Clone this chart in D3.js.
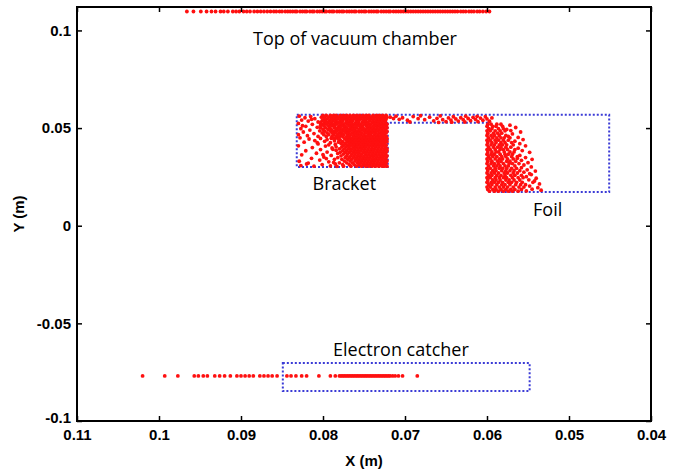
<!DOCTYPE html>
<html>
<head>
<meta charset="utf-8">
<script src="https://cdn.jsdelivr.net/npm/d3@7"></script>
<style>
	body { margin: 0; background: #fff; }
	svg { display: block; }
	.tick text { font-family: "Liberation Sans", Arial, sans-serif; font-weight: bold; font-size: 15px; fill: #000; }
	.note { font-family: "Open Sans", "Noto Sans", sans-serif; font-size: 18px; font-weight: 500; fill: #000; }
	.axis-title { font-family: "Liberation Sans", Arial, sans-serif; font-weight: bold; font-size: 15px; fill: #000; }
</style>
</head>
<body>
<svg id="chart" width="681" height="473"></svg>
<script>
// axis ticks
var xTicks = [0.11, 0.1, 0.09, 0.08, 0.07, 0.06, 0.05, 0.04];
var xTickLabels = ["0.11", "0.1", "0.09", "0.08", "0.07", "0.06", "0.05", "0.04"];
var yTicks = [-0.1, -0.05, 0, 0.05, 0.1];
var yTickLabels = ["-0.1", "-0.05", "0", "0.05", "0.1"];

// dotted outlines (m)
var targetOutline = [[0.0832, 0.0568], [0.0451, 0.0568], [0.0451, 0.0173], [0.0599, 0.0173],
	[0.0599, 0.0527], [0.0721, 0.0527], [0.0721, 0.0301], [0.0832, 0.0301]];
var catcherOutline = [[0.0849, -0.0703], [0.0548, -0.0703], [0.0548, -0.0846], [0.0849, -0.0846]];

// hits on top of the chamber, y = 0.1097
var topY = 0.1097;
var topX = [0.0966, 0.0958, 0.0949, 0.0942, 0.0936, 0.0931, 0.0925, 0.0921, 0.0916, 0.0910, 0.0906, 0.0902,
	0.0897, 0.0893, 0.0889, 0.0884, 0.0880, 0.0876, 0.0872, 0.0868, 0.0864, 0.0860, 0.0857, 0.0853, 0.0850,
	0.0846, 0.0843, 0.0840, 0.0837, 0.0834, 0.0832, 0.0828, 0.0825, 0.0822, 0.0820, 0.0816, 0.0813, 0.0811,
	0.0807, 0.0804, 0.0801, 0.0798, 0.0796, 0.0792, 0.0789, 0.0787, 0.0783, 0.0780, 0.0777, 0.0775, 0.0771,
	0.0768, 0.0765, 0.0762, 0.0760, 0.0756, 0.0753, 0.0750, 0.0748, 0.0744, 0.0741, 0.0738, 0.0735, 0.0733,
	0.0729, 0.0726, 0.0723, 0.0720, 0.0718, 0.0714, 0.0711, 0.0708, 0.0705, 0.0702, 0.0699, 0.0696, 0.0693,
	0.0690, 0.0687, 0.0684, 0.0681, 0.0678, 0.0675, 0.0672, 0.0669, 0.0666, 0.0663, 0.0660, 0.0657, 0.0654,
	0.0651, 0.0648, 0.0645, 0.0642, 0.0639, 0.0636, 0.0632, 0.0629, 0.0626, 0.0622, 0.0619, 0.0616, 0.0612,
	0.0609, 0.0605, 0.0601, 0.0597];

// bracket core, rows of [y, [x...]]
var bracketRows = [
	[0.0565, [0.0800, 0.0796, 0.0791, 0.0787, 0.0784, 0.0779, 0.0775, 0.0771, 0.0767, 0.0763, 0.0759, 0.0755, 0.0751, 0.0747, 0.0744, 0.0739, 0.0735, 0.0731, 0.0727, 0.0723]],
	[0.0556, [0.0802, 0.0798, 0.0793, 0.0789, 0.0785, 0.0781, 0.0777, 0.0773, 0.0769, 0.0765, 0.0761, 0.0757, 0.0753, 0.0749, 0.0745, 0.0741, 0.0737, 0.0733, 0.0729, 0.0725, 0.0722]],
	[0.0547, [0.0799, 0.0795, 0.0790, 0.0786, 0.0782, 0.0778, 0.0774, 0.0770, 0.0766, 0.0762, 0.0758, 0.0754, 0.0750, 0.0746, 0.0742, 0.0738, 0.0734, 0.0730, 0.0726, 0.0723]],
	[0.0538, [0.0801, 0.0797, 0.0792, 0.0788, 0.0784, 0.0779, 0.0776, 0.0771, 0.0767, 0.0764, 0.0759, 0.0756, 0.0751, 0.0748, 0.0743, 0.0739, 0.0735, 0.0731, 0.0727, 0.0724]],
	[0.0529, [0.0803, 0.0798, 0.0794, 0.0790, 0.0785, 0.0781, 0.0777, 0.0772, 0.0769, 0.0765, 0.0760, 0.0757, 0.0752, 0.0748, 0.0745, 0.0740, 0.0736, 0.0732, 0.0728, 0.0724]],
	[0.0520, [0.0800, 0.0796, 0.0791, 0.0787, 0.0783, 0.0778, 0.0775, 0.0770, 0.0766, 0.0762, 0.0758, 0.0754, 0.0749, 0.0746, 0.0742, 0.0737, 0.0733, 0.0729, 0.0725, 0.0722]],
	[0.0511, [0.0799, 0.0793, 0.0789, 0.0786, 0.0780, 0.0776, 0.0773, 0.0768, 0.0764, 0.0760, 0.0756, 0.0752, 0.0747, 0.0743, 0.0739, 0.0735, 0.0731, 0.0727, 0.0723]],
	[0.0502, [0.0803, 0.0797, 0.0792, 0.0786, 0.0782, 0.0779, 0.0774, 0.0771, 0.0766, 0.0763, 0.0759, 0.0754, 0.0751, 0.0746, 0.0742, 0.0738, 0.0734, 0.0730, 0.0726, 0.0722]],
	[0.0493, [0.0800, 0.0794, 0.0790, 0.0784, 0.0780, 0.0776, 0.0772, 0.0768, 0.0764, 0.0761, 0.0756, 0.0752, 0.0748, 0.0744, 0.0740, 0.0736, 0.0732, 0.0728, 0.0724]],
	[0.0484, [0.0798, 0.0791, 0.0787, 0.0783, 0.0778, 0.0774, 0.0770, 0.0767, 0.0762, 0.0758, 0.0755, 0.0750, 0.0746, 0.0742, 0.0738, 0.0734, 0.0729, 0.0725, 0.0722]],
	[0.0475, [0.0801, 0.0795, 0.0789, 0.0785, 0.0780, 0.0777, 0.0772, 0.0769, 0.0764, 0.0760, 0.0757, 0.0753, 0.0748, 0.0744, 0.0740, 0.0736, 0.0731, 0.0727, 0.0723]],
	[0.0466, [0.0799, 0.0793, 0.0787, 0.0782, 0.0778, 0.0775, 0.0770, 0.0766, 0.0762, 0.0758, 0.0754, 0.0750, 0.0745, 0.0742, 0.0737, 0.0733, 0.0729, 0.0725]],
	[0.0457, [0.0796, 0.0789, 0.0784, 0.0780, 0.0776, 0.0771, 0.0768, 0.0763, 0.0759, 0.0755, 0.0751, 0.0747, 0.0743, 0.0739, 0.0735, 0.0731, 0.0727, 0.0723]],
	[0.0448, [0.0790, 0.0785, 0.0781, 0.0774, 0.0770, 0.0766, 0.0762, 0.0758, 0.0754, 0.0750, 0.0746, 0.0742, 0.0738, 0.0734, 0.0730, 0.0726, 0.0722]],
	[0.0439, [0.0779, 0.0772, 0.0768, 0.0764, 0.0760, 0.0756, 0.0752, 0.0748, 0.0744, 0.0740, 0.0736, 0.0732, 0.0728, 0.0724]],
	[0.0430, [0.0776, 0.0770, 0.0766, 0.0762, 0.0758, 0.0754, 0.0750, 0.0746, 0.0742, 0.0738, 0.0734, 0.0730, 0.0726, 0.0722]],
	[0.0421, [0.0778, 0.0773, 0.0768, 0.0764, 0.0760, 0.0756, 0.0752, 0.0748, 0.0745, 0.0741, 0.0737, 0.0733, 0.0729, 0.0725]],
	[0.0412, [0.0775, 0.0770, 0.0766, 0.0762, 0.0758, 0.0754, 0.0750, 0.0747, 0.0743, 0.0739, 0.0735, 0.0731, 0.0727, 0.0723]],
	[0.0403, [0.0777, 0.0772, 0.0768, 0.0763, 0.0759, 0.0755, 0.0752, 0.0748, 0.0744, 0.0740, 0.0736, 0.0732, 0.0728, 0.0724]],
	[0.0394, [0.0780, 0.0774, 0.0769, 0.0765, 0.0761, 0.0757, 0.0753, 0.0749, 0.0745, 0.0741, 0.0737, 0.0733, 0.0729, 0.0725, 0.0722]],
	[0.0385, [0.0776, 0.0771, 0.0766, 0.0762, 0.0758, 0.0754, 0.0750, 0.0746, 0.0742, 0.0738, 0.0734, 0.0730, 0.0726, 0.0722]],
	[0.0376, [0.0779, 0.0773, 0.0768, 0.0763, 0.0759, 0.0756, 0.0751, 0.0747, 0.0743, 0.0739, 0.0735, 0.0731, 0.0727, 0.0723]],
	[0.0367, [0.0775, 0.0770, 0.0765, 0.0761, 0.0757, 0.0753, 0.0748, 0.0744, 0.0740, 0.0736, 0.0732, 0.0728, 0.0724]],
	[0.0358, [0.0778, 0.0771, 0.0766, 0.0762, 0.0758, 0.0754, 0.0750, 0.0746, 0.0742, 0.0738, 0.0734, 0.0730, 0.0726, 0.0722]],
	[0.0349, [0.0773, 0.0768, 0.0763, 0.0759, 0.0755, 0.0751, 0.0747, 0.0743, 0.0739, 0.0735, 0.0731, 0.0727, 0.0723]],
	[0.0340, [0.0777, 0.0770, 0.0765, 0.0760, 0.0756, 0.0752, 0.0748, 0.0744, 0.0740, 0.0736, 0.0732, 0.0728, 0.0724]],
	[0.0331, [0.0774, 0.0767, 0.0761, 0.0757, 0.0753, 0.0749, 0.0745, 0.0741, 0.0737, 0.0733, 0.0729, 0.0725, 0.0722]],
	[0.0322, [0.0780, 0.0771, 0.0764, 0.0758, 0.0754, 0.0750, 0.0746, 0.0742, 0.0738, 0.0734, 0.0730, 0.0726, 0.0723]],
	[0.0313, [0.0776, 0.0768, 0.0762, 0.0756, 0.0751, 0.0747, 0.0743, 0.0739, 0.0735, 0.0731, 0.0727, 0.0724]],
	[0.0305, [0.0775, 0.0766, 0.0759, 0.0753, 0.0748, 0.0744, 0.0740, 0.0736, 0.0732, 0.0728, 0.0725, 0.0722]]
];

// bracket scattered hits on the open side, [x, y]
var bracketFringe = [[0.0829, 0.0561], [0.0822, 0.0553], [0.0815, 0.0559], [0.0810, 0.0548], [0.0826, 0.0541],
	[0.0818, 0.0536], [0.0806, 0.0531], [0.0830, 0.0524], [0.0813, 0.0519], [0.0821, 0.0509], [0.0807, 0.0504],
	[0.0827, 0.0497], [0.0816, 0.0490], [0.0804, 0.0486], [0.0824, 0.0480], [0.0811, 0.0472], [0.0830, 0.0466],
	[0.0819, 0.0461], [0.0806, 0.0457], [0.0814, 0.0545], [0.0803, 0.0515], [0.0825, 0.0512], [0.0828, 0.0450],
	[0.0817, 0.0444], [0.0803, 0.0447], [0.0795, 0.0441], [0.0788, 0.0449], [0.0781, 0.0443], [0.0810, 0.0436],
	[0.0798, 0.0432], [0.0786, 0.0435], [0.0823, 0.0428], [0.0791, 0.0425], [0.0781, 0.0428], [0.0806, 0.0419],
	[0.0785, 0.0416], [0.0830, 0.0409], [0.0797, 0.0408], [0.0813, 0.0400], [0.0789, 0.0398], [0.0784, 0.0404],
	[0.0803, 0.0390], [0.0821, 0.0384], [0.0784, 0.0386], [0.0795, 0.0377], [0.0808, 0.0371], [0.0782, 0.0370],
	[0.0826, 0.0363], [0.0790, 0.0360], [0.0799, 0.0352], [0.0782, 0.0349], [0.0814, 0.0345], [0.0786, 0.0340],
	[0.0804, 0.0336], [0.0829, 0.0330], [0.0793, 0.0327], [0.0818, 0.0321], [0.0785, 0.0316], [0.0801, 0.0313],
	[0.0827, 0.0308], [0.0811, 0.0305], [0.0791, 0.0306], [0.0783, 0.0304], [0.0820, 0.0316], [0.0796, 0.0344],
	[0.0788, 0.0391], [0.0807, 0.0425], [0.0793, 0.0414], [0.0800, 0.0364], [0.0787, 0.0324]];

// hits along the top between bracket and foil, [x, y]
var bridgePts = [[0.0718, 0.0556], [0.0714, 0.0549], [0.0711, 0.0561], [0.0707, 0.0545], [0.0703, 0.0553],
	[0.0697, 0.0540], [0.0690, 0.0559], [0.0684, 0.0548], [0.0676, 0.0543], [0.0670, 0.0556], [0.0665, 0.0537],
	[0.0661, 0.0550], [0.0657, 0.0562], [0.0654, 0.0543], [0.0650, 0.0533], [0.0647, 0.0552], [0.0644, 0.0541],
	[0.0641, 0.0558], [0.0638, 0.0547], [0.0635, 0.0536], [0.0632, 0.0553], [0.0629, 0.0543], [0.0626, 0.0561],
	[0.0623, 0.0549], [0.0620, 0.0538], [0.0617, 0.0555], [0.0614, 0.0545], [0.0611, 0.0533], [0.0608, 0.0551],
	[0.0605, 0.0540], [0.0602, 0.0558], [0.0600, 0.0547], [0.0597, 0.0535], [0.0694, 0.0531], [0.0681, 0.0563],
	[0.0659, 0.0529], [0.0643, 0.0530], [0.0627, 0.0531], [0.0612, 0.0560], [0.0594, 0.0552]];

// foil core, rows of [y, [x...]]
var foilRows = [
	[0.0520, [0.0599, 0.0595, 0.0588, 0.0583]],
	[0.0509, [0.0600, 0.0593, 0.0589, 0.0581]],
	[0.0497, [0.0598, 0.0594, 0.0586, 0.0580]],
	[0.0486, [0.0600, 0.0596, 0.0590, 0.0584, 0.0578]],
	[0.0474, [0.0599, 0.0592, 0.0587, 0.0582]],
	[0.0462, [0.0600, 0.0595, 0.0591, 0.0585, 0.0577]],
	[0.0450, [0.0598, 0.0593, 0.0588, 0.0583, 0.0579, 0.0572]],
	[0.0438, [0.0600, 0.0596, 0.0590, 0.0586, 0.0580, 0.0574]],
	[0.0426, [0.0599, 0.0594, 0.0589, 0.0583, 0.0578, 0.0570]],
	[0.0414, [0.0600, 0.0595, 0.0591, 0.0585, 0.0581, 0.0576, 0.0568]],
	[0.0402, [0.0598, 0.0592, 0.0587, 0.0583, 0.0577, 0.0571]],
	[0.0390, [0.0600, 0.0596, 0.0590, 0.0584, 0.0580, 0.0575, 0.0566]],
	[0.0378, [0.0599, 0.0594, 0.0589, 0.0586, 0.0579, 0.0572, 0.0567]],
	[0.0366, [0.0600, 0.0595, 0.0591, 0.0584, 0.0578, 0.0574, 0.0569]],
	[0.0354, [0.0598, 0.0593, 0.0588, 0.0582, 0.0577, 0.0570, 0.0563]],
	[0.0342, [0.0600, 0.0596, 0.0590, 0.0585, 0.0581, 0.0575, 0.0568]],
	[0.0330, [0.0599, 0.0594, 0.0587, 0.0583, 0.0576, 0.0572, 0.0565]],
	[0.0318, [0.0600, 0.0595, 0.0591, 0.0586, 0.0580, 0.0573, 0.0569, 0.0561]],
	[0.0306, [0.0598, 0.0592, 0.0588, 0.0584, 0.0578, 0.0574, 0.0566]],
	[0.0294, [0.0600, 0.0596, 0.0590, 0.0585, 0.0581, 0.0576, 0.0570, 0.0564]],
	[0.0282, [0.0599, 0.0593, 0.0589, 0.0582, 0.0577, 0.0572, 0.0567, 0.0560]],
	[0.0270, [0.0600, 0.0595, 0.0591, 0.0586, 0.0579, 0.0575, 0.0568, 0.0563]],
	[0.0258, [0.0598, 0.0594, 0.0588, 0.0583, 0.0578, 0.0571, 0.0566, 0.0558]],
	[0.0246, [0.0600, 0.0596, 0.0590, 0.0585, 0.0580, 0.0576, 0.0569, 0.0562, 0.0556]],
	[0.0234, [0.0599, 0.0593, 0.0589, 0.0584, 0.0577, 0.0573, 0.0567, 0.0560]],
	[0.0222, [0.0600, 0.0595, 0.0591, 0.0586, 0.0581, 0.0574, 0.0570, 0.0564, 0.0557]],
	[0.0210, [0.0598, 0.0594, 0.0588, 0.0582, 0.0578, 0.0572, 0.0565, 0.0559, 0.0553]],
	[0.0198, [0.0600, 0.0596, 0.0590, 0.0585, 0.0580, 0.0575, 0.0568, 0.0561, 0.0555]],
	[0.0186, [0.0599, 0.0593, 0.0589, 0.0583, 0.0577, 0.0571, 0.0566, 0.0558]],
	[0.0177, [0.0597, 0.0591, 0.0586, 0.0580, 0.0574, 0.0569, 0.0562]]
];

// foil scattered hits on the downstream side, [x, y]
var foilFringe = [[0.0572, 0.0515], [0.0565, 0.0503], [0.0576, 0.0493], [0.0559, 0.0480], [0.0569, 0.0470],
	[0.0574, 0.0458], [0.0562, 0.0452], [0.0556, 0.0441], [0.0566, 0.0433], [0.0560, 0.0420], [0.0553, 0.0409],
	[0.0562, 0.0397], [0.0557, 0.0385], [0.0548, 0.0376], [0.0560, 0.0360], [0.0553, 0.0349], [0.0545, 0.0340],
	[0.0558, 0.0335], [0.0550, 0.0323], [0.0555, 0.0311], [0.0546, 0.0301], [0.0558, 0.0297], [0.0551, 0.0286],
	[0.0541, 0.0280], [0.0555, 0.0274], [0.0546, 0.0262], [0.0552, 0.0251], [0.0540, 0.0243], [0.0549, 0.0235],
	[0.0544, 0.0222], [0.0536, 0.0214], [0.0548, 0.0203], [0.0538, 0.0195], [0.0545, 0.0187], [0.0534, 0.0182],
	[0.0552, 0.0178], [0.0542, 0.0229], [0.0563, 0.0345], [0.0571, 0.0487], [0.0548, 0.0266]];

// electron catcher hits, y = -0.0769
var catcherY = -0.0769;
var catcherX = [0.1020, 0.0993, 0.0977, 0.0957, 0.0952, 0.0946, 0.0941, 0.0932, 0.0926, 0.0920, 0.0913,
	0.0905, 0.0900, 0.0895, 0.0890, 0.0885, 0.0877, 0.0872, 0.0867, 0.0862, 0.0856, 0.0844, 0.0839, 0.0833,
	0.0826, 0.0820, 0.0805, 0.0791, 0.0785, 0.0780, 0.0778, 0.0776, 0.0774, 0.0772, 0.0770, 0.0768, 0.0766,
	0.0764, 0.0762, 0.0760, 0.0758, 0.0756, 0.0754, 0.0752, 0.0750, 0.0748, 0.0746, 0.0744, 0.0742, 0.0740,
	0.0738, 0.0736, 0.0734, 0.0732, 0.0730, 0.0728, 0.0726, 0.0724, 0.0722, 0.0720, 0.0718, 0.0715, 0.0712,
	0.0708, 0.0703, 0.0685];

var notes = [
	{text: "Top of vacuum chamber", x: 0.0761, y: 0.0925},
	{text: "Bracket", x: 0.0774, y: 0.0183},
	{text: "Foil", x: 0.0526, y: 0.0050},
	{text: "Electron catcher", x: 0.0705, y: -0.0667}
];

var W = 681, H = 473;
var margin = {left: 77, right: 30, top: 7, bottom: 52};

var svg = d3.select("#chart");

var x = d3.scaleLinear()
	.domain([0.11, 0.04])
	.range([margin.left, W - margin.right]);
var y = d3.scaleLinear()
	.domain([-0.1, 0.112])
	.range([H - margin.bottom, margin.top]);

// flatten rows into points
function rowsToPts(rows) {
	var out = [];
	rows.forEach(function(r) {
		r[1].forEach(function(v) { out.push([v, r[0]]); });
	});
	return out;
}

var points = []
	.concat(topX.map(function(v) { return [v, topY]; }))
	.concat(rowsToPts(bracketRows))
	.concat(bracketFringe)
	.concat(bridgePts)
	.concat(rowsToPts(foilRows))
	.concat(foilFringe)
	.concat(catcherX.map(function(v) { return [v, catcherY]; }));

// dotted outlines
var outline = d3.line()
	.x(function(d) { return x(d[0]); })
	.y(function(d) { return y(d[1]); })
	.curve(d3.curveLinearClosed);

svg.selectAll(".zone")
	.data([targetOutline, catcherOutline])
	.enter().append("path")
	.attr("class", "zone")
	.attr("d", outline)
	.attr("fill", "none")
	.attr("stroke", "#3b3bd6")
	.attr("stroke-width", 2)
	.attr("stroke-dasharray", "2,2");

svg.append("g")
	.selectAll("circle")
	.data(points)
	.enter().append("circle")
	.attr("cx", function(d) { return x(d[0]); })
	.attr("cy", function(d) { return y(d[1]); })
	.attr("r", 1.9)
	.attr("fill", "#ff1010");

// axes, ticks on all four sides pointing in
var plotW = W - margin.left - margin.right;
var plotH = H - margin.top - margin.bottom;

var gx = svg.append("g")
	.attr("transform", "translate(0," + (H - margin.bottom) + ")")
	.call(d3.axisBottom(x).tickValues(xTicks)
		.tickFormat(function(d, i) { return xTickLabels[i]; })
		.tickSizeInner(-5).tickSizeOuter(0).tickPadding(8));
var gy = svg.append("g")
	.attr("transform", "translate(" + margin.left + ",0)")
	.call(d3.axisLeft(y).tickValues(yTicks)
		.tickFormat(function(d, i) { return yTickLabels[i]; })
		.tickSizeInner(-5).tickSizeOuter(0).tickPadding(6));
svg.append("g")
	.attr("transform", "translate(0," + margin.top + ")")
	.call(d3.axisTop(x).tickValues(xTicks).tickFormat("")
		.tickSizeInner(-5).tickSizeOuter(0));
svg.append("g")
	.attr("transform", "translate(" + (W - margin.right) + ",0)")
	.call(d3.axisRight(y).tickValues(yTicks).tickFormat("")
		.tickSizeInner(-5).tickSizeOuter(0));

svg.selectAll(".domain").remove();
svg.selectAll(".tick line").attr("stroke", "#000").attr("stroke-width", 1.5);
gy.selectAll(".tick text").filter(function(d) { return d === -0.1; }).attr("dy", "0.1em");

svg.append("rect")
	.attr("x", margin.left)
	.attr("y", margin.top)
	.attr("width", plotW)
	.attr("height", plotH)
	.attr("fill", "none")
	.attr("stroke", "#000")
	.attr("stroke-width", 2);

// axis titles
svg.append("text")
	.attr("class", "axis-title")
	.attr("x", margin.left + plotW / 2)
	.attr("y", 466)
	.attr("text-anchor", "middle")
	.text("X (m)");
svg.append("text")
	.attr("class", "axis-title")
	.attr("transform", "translate(24," + (margin.top + plotH / 2) + ") rotate(-90)")
	.attr("text-anchor", "middle")
	.text("Y (m)");

svg.selectAll(".note")
	.data(notes)
	.enter().append("text")
	.attr("class", "note")
	.attr("x", function(d) { return x(d.x); })
	.attr("y", function(d) { return y(d.y); })
	.attr("text-anchor", "middle")
	.text(function(d) { return d.text; });
</script>
</body>
</html>
